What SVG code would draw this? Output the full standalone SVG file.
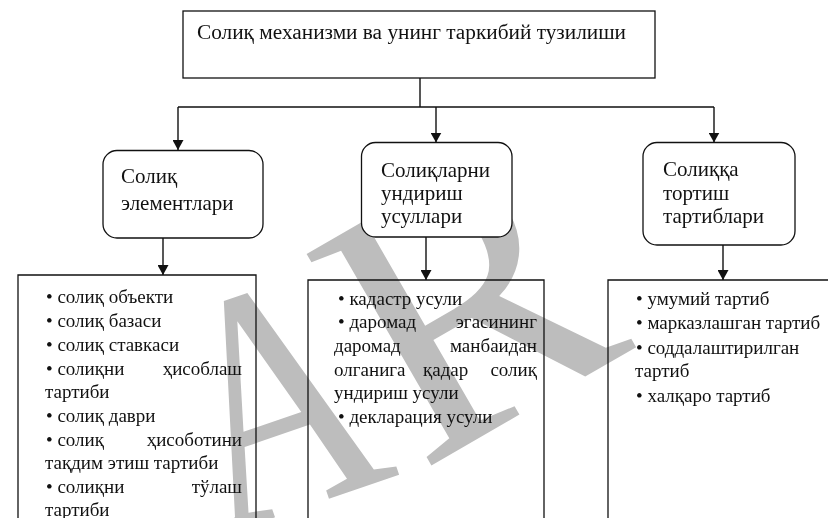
<svg xmlns="http://www.w3.org/2000/svg" width="828" height="518" viewBox="0 0 828 518">
  <defs>
    <marker id="arrow" markerUnits="userSpaceOnUse" markerWidth="11" markerHeight="11" refX="10" refY="5.5" orient="auto">
      <path d="M0,0 L10,5.5 L0,11 z" fill="#111"/>
    </marker>
    <style>
      .box { fill: #fff; stroke: #111; stroke-width: 1.3; }
      .open { fill: none; stroke: #111; stroke-width: 1.3; }
      .wire { fill: none; stroke: #111; stroke-width: 1.4; }
      .t { font-family: "Liberation Serif", "Times New Roman", serif; fill: #111; }
      .title { font-size: 21.3px; }
      .node { font-size: 21px; }
      .item { font-size: 19px; }
      .end { text-anchor: end; }
      .mark { font-family: "Liberation Serif", "Times New Roman", serif; fill: #bdbdbd; }
    </style>
  </defs>

  <rect width="828" height="518" fill="#fff"/>

  <!-- grey AR stamp, under the rounded boxes and all lettering -->
  <g id="stamp" style="mix-blend-mode: multiply">
    <text class="mark" font-size="335" transform="translate(218,537) rotate(-19) scale(0.8,1)">A</text>
    <text class="mark" font-size="375" transform="translate(420,472) rotate(-30)">R</text>
  </g>

  <g id="title">
    <rect class="box" x="183" y="11" width="472" height="67"/>
    <text class="t title" x="197" y="39">Солиқ механизми ва унинг таркибий тузилиши</text>
  </g>

  <g id="connectors">
    <path class="wire" d="M420,78 V107 M178,107 H714"/>
    <path class="wire" d="M178,107 V150" marker-end="url(#arrow)"/>
    <path class="wire" d="M436,107 V142.5" marker-end="url(#arrow)"/>
    <path class="wire" d="M714,107 V142.5" marker-end="url(#arrow)"/>
    <path class="wire" d="M163,238 V275" marker-end="url(#arrow)"/>
    <path class="wire" d="M426,237 V280" marker-end="url(#arrow)"/>
    <path class="wire" d="M723,245 V280" marker-end="url(#arrow)"/>
  </g>

  <g id="node-elements">
    <rect class="box" x="103" y="150.5" width="160" height="87.5" rx="14"/>
    <text class="t node" x="121" y="183">Солиқ</text>
    <text class="t node" x="121" y="210">элементлари</text>
  </g>

  <g id="node-methods">
    <rect class="box" x="361.5" y="142.5" width="150.5" height="94.5" rx="14"/>
    <text class="t node" x="381" y="177">Солиқларни</text>
    <text class="t node" x="381" y="200">ундириш</text>
    <text class="t node" x="381" y="223">усуллари</text>
  </g>

  <g id="node-orders">
    <rect class="box" x="643" y="142.5" width="152" height="102.5" rx="14"/>
    <text class="t node" x="663" y="176">Солиққа</text>
    <text class="t node" x="663" y="200">тортиш</text>
    <text class="t node" x="663" y="223">тартиблари</text>
  </g>

  <g id="elements-list">
    <path class="open" d="M18,530 V275 H256 V530"/>
    <text class="t item" x="46" y="303">• солиқ объекти</text>
    <text class="t item" x="46" y="327">• солиқ базаси</text>
    <text class="t item" x="46" y="351">• солиқ ставкаси</text>
    <text class="t item" x="46" y="375">• солиқни</text>
    <text class="t item end" x="242" y="375">ҳисоблаш</text>
    <text class="t item" x="45" y="398">тартиби</text>
    <text class="t item" x="46" y="422">• солиқ даври</text>
    <text class="t item" x="46" y="446">• солиқ</text>
    <text class="t item end" x="242" y="446">ҳисоботини</text>
    <text class="t item" x="45" y="469">тақдим этиш тартиби</text>
    <text class="t item" x="46" y="493">• солиқни</text>
    <text class="t item end" x="242" y="493">тўлаш</text>
    <text class="t item" x="45" y="516">тартиби</text>
  </g>

  <g id="methods-list">
    <path class="open" d="M308,530 V280 H544 V530"/>
    <text class="t item" x="338" y="305">• кадастр усули</text>
    <text class="t item" x="338" y="328">• даромад</text>
    <text class="t item end" x="537" y="328">эгасининг</text>
    <text class="t item" x="334" y="352">даромад</text>
    <text class="t item end" x="537" y="352">манбаидан</text>
    <text class="t item" x="334" y="376">олганига</text>
    <text class="t item" x="423" y="376">қадар</text>
    <text class="t item end" x="537" y="376">солиқ</text>
    <text class="t item" x="334" y="399">ундириш усули</text>
    <text class="t item" x="338" y="423">• декларация усули</text>
  </g>

  <g id="orders-list">
    <path class="open" d="M608,530 V280 H840"/>
    <text class="t item" x="636" y="305">• умумий тартиб</text>
    <text class="t item" x="636" y="329">• марказлашган тартиб</text>
    <text class="t item" x="636" y="354">• соддалаштирилган</text>
    <text class="t item" x="635" y="377">тартиб</text>
    <text class="t item" x="636" y="402">• халқаро тартиб</text>
  </g>
</svg>
